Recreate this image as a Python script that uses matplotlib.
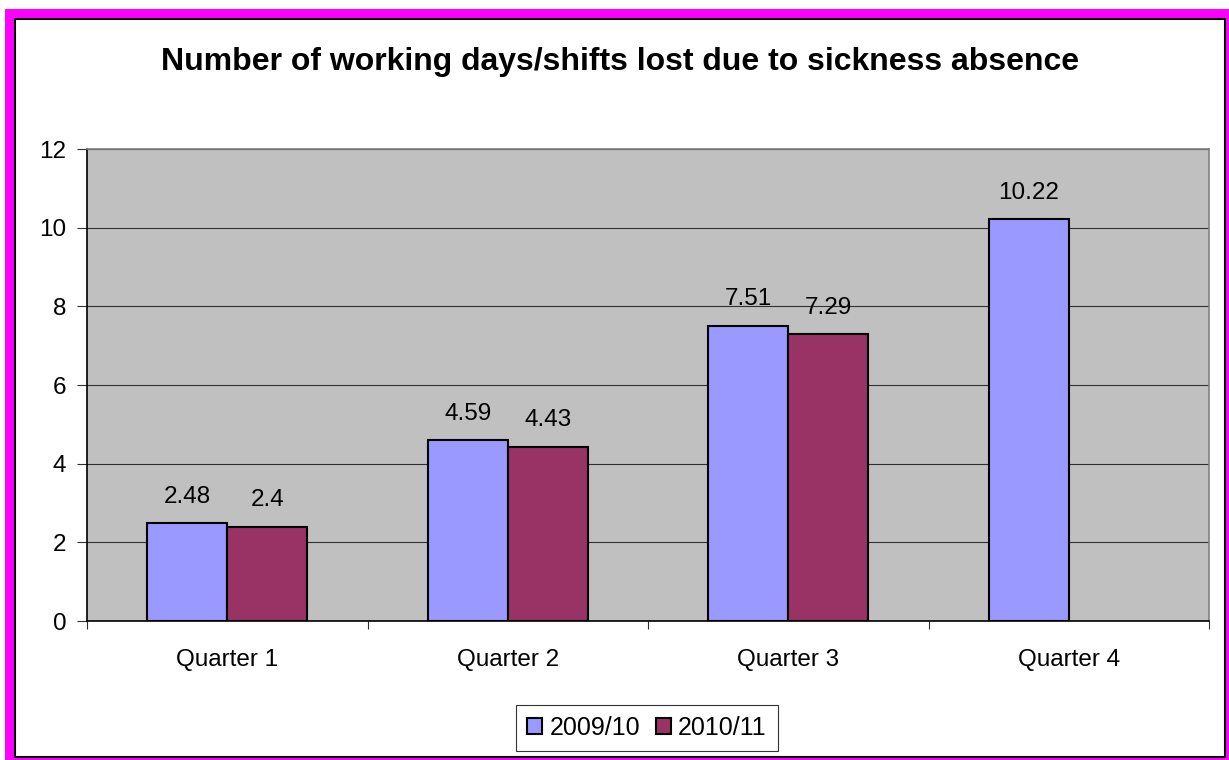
import numpy as np
import matplotlib
matplotlib.use('Agg')
from matplotlib import pyplot as plt
from matplotlib.patches import Rectangle

quarters = ['Quarter 1', 'Quarter 2', 'Quarter 3', 'Quarter 4']
series_names = ['2009/10', '2010/11']
vals_0910 = [2.48, 4.59, 7.51, 10.22]
vals_1011 = [2.4, 4.43, 7.29, None]
colors = ['#9999FF', '#993366']

plt.rcParams['font.family'] = ['Liberation Sans', 'DejaVu Sans']

W, H = 1229, 760
fig = plt.figure(figsize=(W / 100, H / 100), dpi=100)
fig.patch.set_facecolor('white')

def px(x0, y0, x1, y1):
    # pixel box (top-left origin) -> figure fraction
    return (x0 / W, 1 - y1 / H, (x1 - x0) / W, (y1 - y0) / H)

# magenta frame with black inner line
x, y, w, h = px(5, 9, W, H)
fig.patches.append(Rectangle((x, y), w, h, transform=fig.transFigure,
                             facecolor='#FF00FF', edgecolor='none', zorder=-10))
x, y, w, h = px(15, 19, 1225, 757)
fig.patches.append(Rectangle((x, y), w, h, transform=fig.transFigure,
                             facecolor='white', edgecolor='black', lw=1.5, zorder=-9))

ax = fig.add_axes(px(87, 149, 1209, 621))
ax.set_facecolor('#C0C0C0')

idx = np.arange(len(quarters))
bw = 0.285
for i, (vals, c) in enumerate(zip([vals_0910, vals_1011], colors)):
    xs = [q + (i - 0.5) * bw for q, v in zip(idx, vals) if v is not None]
    vs = [v for v in vals if v is not None]
    ax.bar(xs, vs, width=bw, color=c, edgecolor='black', lw=1.5,
           label=series_names[i], zorder=3)
    for bx, v in zip(xs, vs):
        ax.annotate(f'{v:g}', (bx, v), xytext=(0, 11), textcoords='offset points',
                    ha='center', va='bottom', fontsize=17.5)

ax.set_xlim(-0.5, 3.5)
ax.set_ylim(0, 12)
ax.set_yticks(range(0, 13, 2))
ax.yaxis.grid(True, color='#303030', lw=0.8, zorder=1)
ax.set_axisbelow(True)
ax.set_xticks(np.arange(-0.5, 4, 1))
ax.set_xticklabels([])
ax.set_xticks(idx, minor=True)
ax.set_xticklabels(quarters, minor=True)
ax.tick_params(axis='x', which='minor', length=0, pad=20, labelsize=17.5)
ax.tick_params(axis='x', which='major', length=6, color='#303030', direction='out')
ax.tick_params(axis='y', length=7, color='#303030', pad=8, labelsize=17.5)

for s in ['top', 'right']:
    ax.spines[s].set_color('#808080')
    ax.spines[s].set_linewidth(1.2)
for s in ['left', 'bottom']:
    ax.spines[s].set_color('black')
    ax.spines[s].set_linewidth(1.2)

fig.text(620 / W, 1 - 62 / H, 'Number of working days/shifts lost due to sickness absence',
         ha='center', va='center', fontsize=23, fontweight='bold')

leg = fig.legend(loc='center', bbox_to_anchor=(647 / W, 1 - 728 / H), ncol=2,
                 fontsize=18, frameon=True, fancybox=False, edgecolor='black',
                 handlelength=0.6, handleheight=0.6, handletextpad=0.3,
                 columnspacing=0.6, borderpad=0.45)
leg.get_frame().set_linewidth(0.8)

fig.savefig('out.png', dpi=100)
